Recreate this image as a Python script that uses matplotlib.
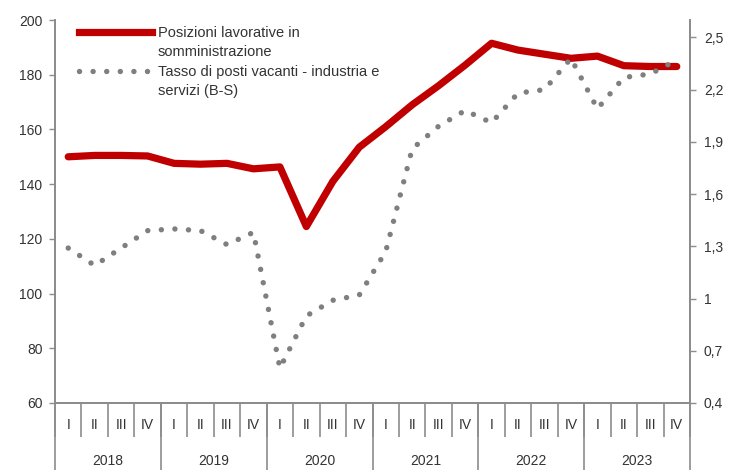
import matplotlib
matplotlib.use('Agg')
import matplotlib.pyplot as plt
from matplotlib.lines import Line2D

plt.rcParams['font.family'] = ['Liberation Sans', 'DejaVu Sans']

years = ['2018', '2019', '2020', '2021', '2022', '2023']
quarters = ['I', 'II', 'III', 'IV']

# posizioni lavorative in somministrazione (asse sinistro)
posizioni = [150.0, 150.5, 150.5, 150.3,
             147.6, 147.3, 147.6, 145.6,
             146.3, 124.5, 141.0, 153.5,
             161.0, 169.0, 176.0, 183.5,
             191.5, 189.0, 187.5, 186.0,
             186.8, 183.3, 183.0, 183.0]

# tasso di posti vacanti (asse destro)
vacanti = [1.29, 1.19, 1.29, 1.39,
           1.40, 1.39, 1.31, 1.38,
           0.60, 0.90, 0.99, 1.02,
           1.27, 1.86, 1.99, 2.08,
           2.01, 2.18, 2.20, 2.38,
           2.09, 2.27, 2.29, 2.37]

left_ticks = [60, 80, 100, 120, 140, 160, 180, 200]
right_ticks = [0.4, 0.7, 1.0, 1.3, 1.6, 1.9, 2.2, 2.5]
right_labels = ['0,4', '0,7', '1', '1,3', '1,6', '1,9', '2,2', '2,5']

red = '#c00000'
grey = '#7f7f7f'
spine_col = '#8c8c8c'
txt = '#333333'
dots = (0, (0.01, 2.5))


def drawing_graph():
    fig = plt.figure(figsize=(7.45, 4.70), dpi=100)
    ax1 = fig.add_axes([55 / 745, 1 - 403 / 470, 635 / 745, 383 / 470])

    n = len(posizioni)
    x = list(range(n))

    ax1.plot(x, posizioni, color=red, lw=5.2, solid_capstyle='round',
             solid_joinstyle='round', zorder=3)
    ax1.set_xlim(-0.5, n - 0.5)
    ax1.set_ylim(60, 200)
    ax1.set_yticks(left_ticks)
    ax1.tick_params(axis='y', direction='out', length=4, width=1,
                    color=spine_col, labelsize=10, labelcolor=txt, pad=5)

    ax2 = ax1.twinx()
    ax2.plot(x, vacanti, color=grey, lw=3.9, linestyle=dots,
             dash_capstyle='round')
    ax2.set_ylim(0.4, 2.6)
    ax2.set_yticks(right_ticks)
    ax2.set_yticklabels(right_labels)
    ax2.tick_params(axis='y', direction='out', length=4, width=1,
                    color=spine_col, labelsize=10, labelcolor=txt, pad=6)

    for a in (ax1, ax2):
        a.spines['top'].set_visible(False)
        for s in ('left', 'right', 'bottom'):
            a.spines[s].set_color(spine_col)
            a.spines[s].set_linewidth(1.3)

    # quarter labels + separators
    ax1.set_xticks(x)
    ax1.set_xticklabels(quarters * len(years))
    ax1.set_xticks([i - 0.5 for i in range(n + 1)], minor=True)
    ax1.tick_params(axis='x', which='major', length=0, pad=11,
                    labelsize=10, labelcolor=txt)
    ax1.tick_params(axis='x', which='minor', direction='out', length=24.5,
                    width=1.2, color=spine_col)

    # years row
    sec = ax1.secondary_xaxis('bottom')
    sec.set_xticks([4 * i - 0.5 for i in range(len(years) + 1)])
    sec.set_xticklabels([])
    sec.set_xticks([4 * i + 1.5 for i in range(len(years))], minor=True)
    sec.set_xticklabels(years, minor=True)
    sec.tick_params(axis='x', which='major', direction='out', length=52,
                    width=1.2, color=spine_col)
    sec.tick_params(axis='x', which='minor', length=0, pad=37,
                    labelsize=10, labelcolor=txt)
    sec.spines['bottom'].set_visible(False)

    handles = [Line2D([], [], color=red, lw=5.2),
               Line2D([], [], color='none'),
               Line2D([], [], color=grey, lw=3.9, linestyle=dots,
                      dash_capstyle='round'),
               Line2D([], [], color='none')]
    labels = ['Posizioni lavorative in', 'somministrazione',
              'Tasso di posti vacanti - industria e', 'servizi (B-S)']
    leg = ax2.legend(handles, labels, loc='upper left',
                     bbox_to_anchor=(0.038, 0.985), frameon=False,
                     fontsize=10.5, handlelength=5.0, handletextpad=0.4,
                     labelspacing=0.38, borderpad=0, borderaxespad=0)
    for t in leg.get_texts():
        t.set_color(txt)

    fig.savefig('out.png', dpi=100, facecolor='white')


drawing_graph()
